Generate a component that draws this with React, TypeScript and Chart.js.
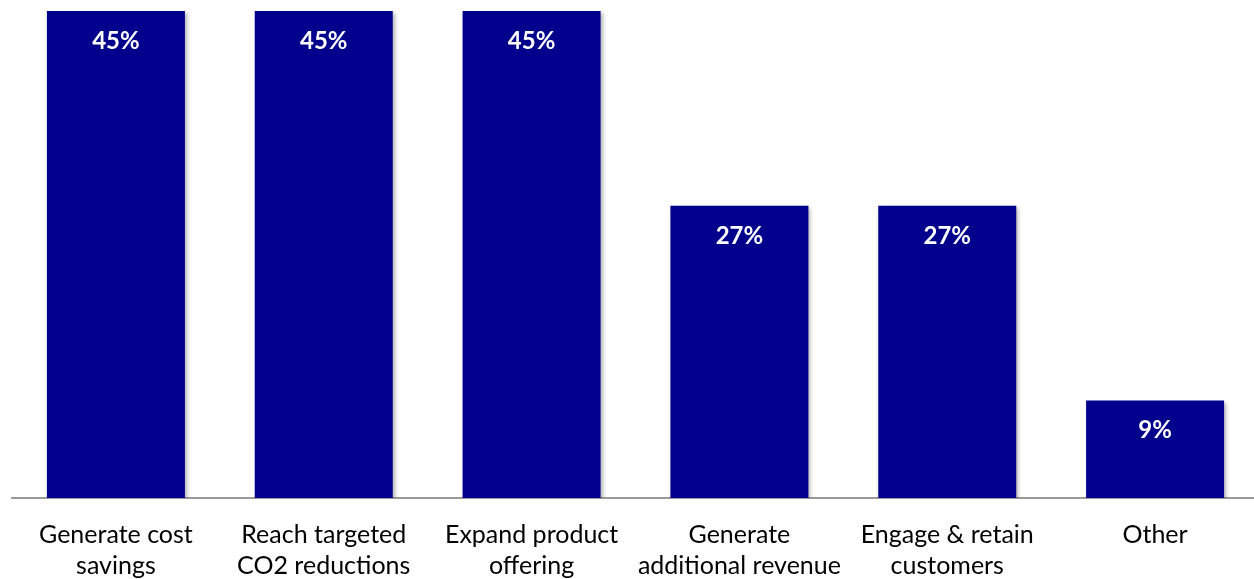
import React, { useEffect, useRef } from "react";
import { Chart, registerables } from "chart.js";

Chart.register(...registerables);

const categories: string[][] = [
  ["Generate cost", "savings"],
  ["Reach targeted", "CO2 reductions"],
  ["Expand product", "offering"],
  ["Generate", "additional revenue"],
  ["Engage & retain", "customers"],
  ["Other"],
];
const values: number[] = [45, 45, 45, 27, 27, 9];
const barColor = "#00008C";

const FONT = "Lato, 'Open Sans', sans-serif";

const shadowPlugin = {
  id: "barShadow",
  beforeDatasetsDraw(chart: any) {
    const ctx = chart.ctx;
    ctx.save();
    ctx.shadowColor = "rgba(0,0,0,0.3)";
    ctx.shadowBlur = 4;
    ctx.shadowOffsetX = 2;
    ctx.shadowOffsetY = 2;
  },
  afterDatasetsDraw(chart: any) {
    const ctx = chart.ctx;
    ctx.restore();
    const meta = chart.getDatasetMeta(0);
    ctx.save();
    ctx.fillStyle = "#ffffff";
    ctx.font = `bold 24px ${FONT}`;
    ctx.textAlign = "center";
    ctx.textBaseline = "middle";
    meta.data.forEach((bar: any, i: number) => {
      ctx.fillText(`${values[i]}%`, bar.x, bar.y + 30);
    });
    ctx.restore();
  },
};

export default function App() {
  const ref = useRef<HTMLCanvasElement>(null);
  useEffect(() => {
    document.body.style.margin = "0";
    document.body.style.overflow = "hidden";
    const chart = new Chart(ref.current!, {
      type: "bar",
      data: {
        labels: categories,
        datasets: [
          {
            data: values,
            backgroundColor: barColor,
            borderWidth: 0,
            categoryPercentage: 1,
            barPercentage: 0.664,
          },
        ],
      },
      options: {
        animation: false,
        responsive: false,
        layout: { padding: { left: 12, top: 11, right: 0, bottom: 0 } },
        plugins: { legend: { display: false }, tooltip: { enabled: false } },
        scales: {
          y: { display: false, min: 0, max: 45 },
          x: {
            grid: { display: false, drawTicks: false },
            border: { display: true, color: "#9a9a9a", width: 2 },
            ticks: {
              color: "#000000",
              font: { family: FONT, size: 25, lineHeight: 1.25 },
              padding: 21,
              maxRotation: 0,
              autoSkip: false,
            },
            afterFit(scale: any) {
              scale.height = 81;
            },
          },
        },
      },
      plugins: [shadowPlugin],
    });
    return () => chart.destroy();
  }, []);
  return (
    <div style={{ position: "fixed", left: 0, top: 0, width: 1254, height: 579, overflow: "hidden" }}>
      <canvas ref={ref} width={1259} height={579} style={{ display: "block" }} />
    </div>
  );
}
